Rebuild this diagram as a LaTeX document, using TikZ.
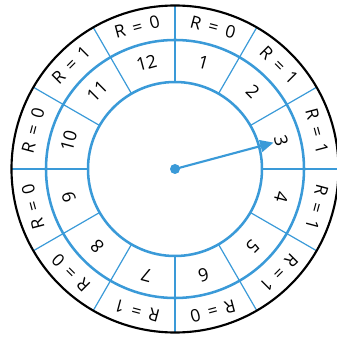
\documentclass[tikz,border=0pt]{standalone}
\usepackage{fontspec}
\setmainfont{Open Sans}
\usetikzlibrary{arrows.meta}
\definecolor{dialblue}{RGB}{58,154,216}
\newcommand{\remtext}[1]{R\hspace{0.45em}=\hspace{0.45em}#1}
\tikzset{
  ring/.style={dialblue,line width=1.9pt},
  spoke/.style={dialblue,line width=0.9pt},
  hourlabel/.style={font=\fontsize{13.5}{16}\selectfont,inner sep=0pt},
  remlabel/.style={font=\fontsize{13}{16}\selectfont,inner sep=0pt},
  hub/.style={circle,fill=dialblue,minimum size=7.5pt,inner sep=0pt},
  hand/.style={dialblue,line width=1.6pt,-{Triangle[length=10pt,width=9pt]}}
}
\begin{document}
\begin{tikzpicture}[x=0.75pt,y=0.75pt]
  \useasboundingbox (-175,-170) rectangle (161,169);
  % spokes through both rings
  \foreach \a in {0,30,...,330}
    \draw[spoke] (\a:87) -- (\a:163.5);
  \draw[ring] (0,0) circle (87);
  \draw[ring] (0,0) circle (129);
  \draw[black,line width=1.6pt] (0,0) circle (163.5);
  % hours and remainders
  \foreach \k/\r [count=\i, evaluate=\i as \a using 135-30*\i] in
      {12/0,1/0,2/1,3/1,4/1,5/1,6/0,7/1,8/0,9/0,10/0,11/1} {
    \node[hourlabel,rotate=\a-90] (h\k) at (\a:110) {\k};
    \node[remlabel,rotate=\a-90] (r\k) at (\a:147) {\remtext{\r}};
  }
  % hand
  \node[hub] (centre) at (0,0) {};
  \coordinate (tip) at (15:102);
  \draw[hand] (centre.center) -- (tip);
\end{tikzpicture}
\end{document}
